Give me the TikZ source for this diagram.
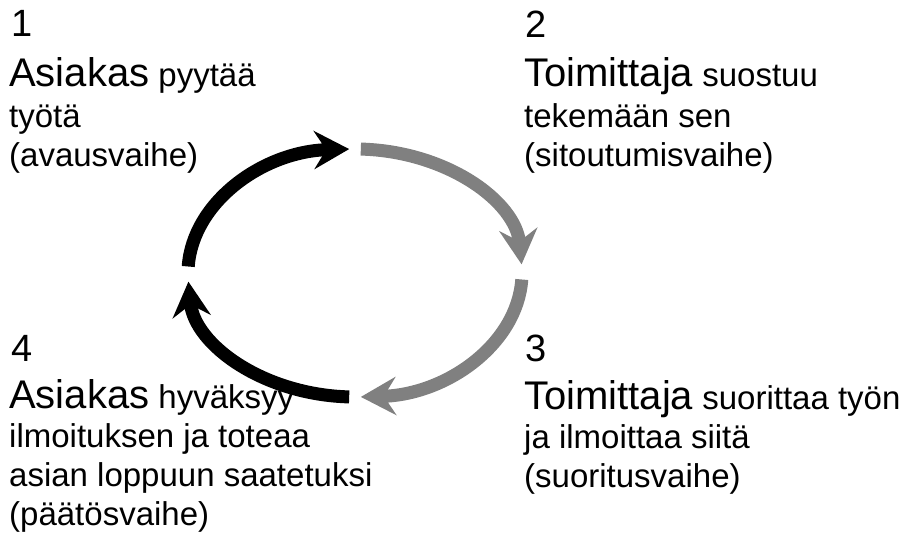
\documentclass[tikz,border=0pt]{standalone}
\usepackage{fontspec}
\setmainfont{Liberation Sans}
\usetikzlibrary{arrows.meta}
\definecolor{grey}{HTML}{808080}
\newcommand{\role}[1]{{\fontsize{40pt}{39pt}\selectfont #1}}
\tikzset{
  num/.style={anchor=base west,inner sep=0pt,font=\fontsize{38pt}{40pt}\selectfont},
  txt/.style={anchor=base west,inner sep=0pt,align=left,font=\fontsize{33pt}{39pt}\selectfont},
  cyc/.style={line width=13pt,-{Stealth[length=35pt,width=38pt,inset=12pt]}},
  blk/.style={cyc,draw=black},
  gry/.style={cyc,draw=grey},
}

\begin{document}
\begin{tikzpicture}[x=1pt,y=1pt]
\useasboundingbox (0,0) rectangle (917,538);
\coordinate (c) at (355,265);

% the four phases (txt nodes sit on their last baseline)
\node[num] (n1) at (11,501) {1};
\node[txt] (t1) at (9,371) {\role{Asiakas} pyytää\\[2pt] työtä\\ (avausvaihe)};
\node[num] (n2) at (525,500) {2};
\node[txt] (t2) at (524,371) {\role{Toimittaja} suostuu\\[2pt] tekemään sen\\ (sitoutumisvaihe)};
\node[num] (n3) at (525,176) {3};
\node[txt] (t3) at (524,51) {\role{Toimittaja} suorittaa työn\\ ja ilmoittaa siitä\\ (suoritusvaihe)};
\node[num] (n4) at (11,176) {4};
\node[txt] (t4) at (9,13) {\role{Asiakas} hyväksyy\\ ilmoituksen ja toteaa\\ asian loppuun saatetuksi\\ (päätösvaihe)};

% the cycle, drawn over the text
\draw[blk] ([shift={(177:167pt and 124pt)}]c) arc[start angle=177,end angle=92,x radius=167pt,y radius=124pt];
\draw[gry] ([shift={(88:167pt and 124pt)}]c) arc[start angle=88,end angle=4,x radius=167pt,y radius=124pt];
\draw[gry] ([shift={(-3:167pt and 124pt)}]c) arc[start angle=-3,end angle=-88,x radius=167pt,y radius=124pt];
\draw[blk] ([shift={(-92:167pt and 124pt)}]c) arc[start angle=-92,end angle=-176,x radius=167pt,y radius=124pt];
\end{tikzpicture}
\end{document}
